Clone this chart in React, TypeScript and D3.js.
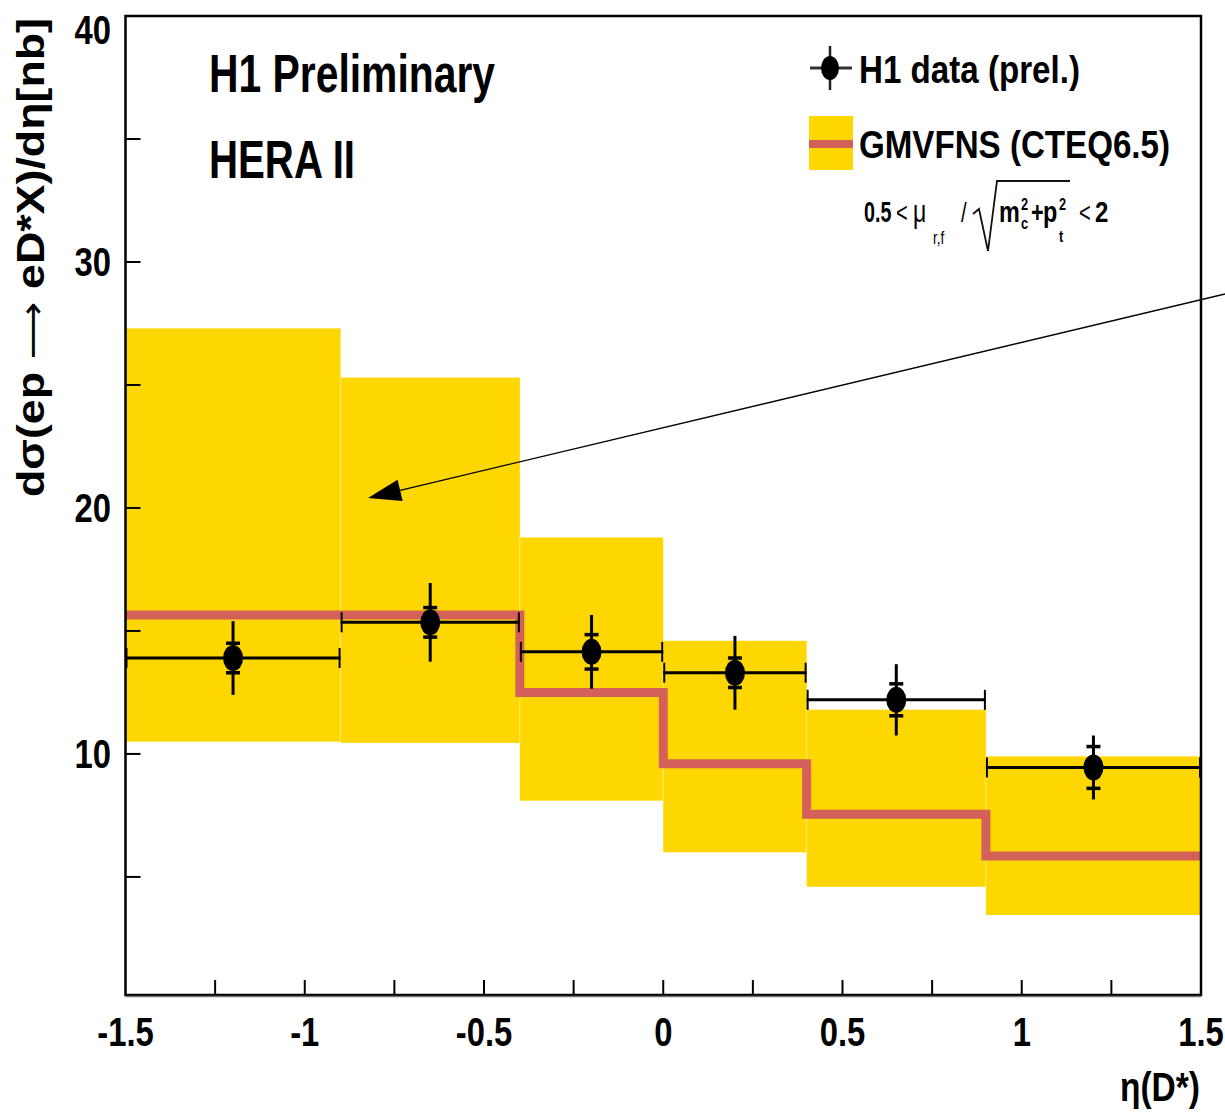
import React from "react";
import * as d3 from "d3";

// ---------- data ----------
const binEdges = [-1.5, -0.9, -0.4, 0, 0.4, 0.9, 1.5];
const dataCenters = [-1.2, -0.65, -0.2, 0.2, 0.65, 1.2];
const dataValues = [13.9, 15.35, 14.15, 13.3, 12.2, 9.45];
const statErr = [0.6, 0.6, 0.7, 0.6, 0.65, 0.85];
const totErr = [1.5, 1.6, 1.5, 1.5, 1.45, 1.3];
const theoryCentral = [15.65, 15.65, 12.5, 9.6, 7.55, 5.85];
const theoryHigh = [27.3, 25.3, 18.8, 14.6, 11.8, 9.9];
const theoryLow = [10.5, 10.45, 8.1, 6.0, 4.6, 3.45];

const xTickLabels = [-1.5, -1, -0.5, 0, 0.5, 1, 1.5];
const xMinorTicks = [-1.25, -1, -0.75, -0.5, -0.25, 0, 0.25, 0.5, 0.75, 1, 1.25];
const yTickLabels = [10, 20, 30, 40];
const yMinorTicks = [5, 10, 15, 20, 25, 30, 35];

const W = 1225;
const H = 1112;
const FONT = "'Liberation Sans', Arial, Helvetica, sans-serif";
const YELLOW = "#ffd700";
const RED = "#d4605a";

const x = d3.scaleLinear().domain([-1.5, 1.5]).range([125.5, 1201]);
const y = d3.scaleLinear().domain([0.2, 40]).range([995, 16]);

function Sq({ x: tx, y: ty, size, sx = 0.8, anchor = "start", weight = "bold", children, family = FONT }: any) {
  return (
    <text
      transform={`translate(${tx},${ty}) scale(${sx},1)`}
      fontSize={size}
      fontFamily={family}
      fontWeight={weight}
      textAnchor={anchor}
      fill="#000"
    >
      {children}
    </text>
  );
}

export default function App() {
  const [x0, x1] = x.range();
  const [yb, yt] = y.range();

  const stepPts: [number, number][] = binEdges.map((e, i) => [
    x(e),
    y(theoryCentral[Math.min(i, theoryCentral.length - 1)]),
  ]);
  const stepLine = d3.line().curve(d3.curveStepAfter)(stepPts) || "";

  // arrow annotation
  const ax0 = 1225, ay0 = 294, ax1 = 368, ay1 = 498;
  const dx = ax0 - ax1, dy = ay0 - ay1;
  const L = Math.hypot(dx, dy);
  const ux = dx / L, uy = dy / L;
  const hl = 33, hw = 11;
  const bx = ax1 + ux * hl, by = ay1 + uy * hl;
  const head = `M${ax1},${ay1} L${bx - uy * hw},${by + ux * hw} L${bx + uy * hw},${by - ux * hw} Z`;

  return (
    <svg
      width={W}
      height={H}
      style={{ position: "absolute", left: 0, top: 0, background: "#fff" }}
    >
      <rect x={0} y={0} width={W} height={H} fill="#fff" />

      {/* theory band */}
      {theoryHigh.map((hv, i) => (
        <rect
          key={"b" + i}
          x={x(binEdges[i])}
          y={y(hv)}
          width={x(binEdges[i + 1]) - x(binEdges[i])}
          height={y(theoryLow[i]) - y(hv)}
          fill={YELLOW}
        />
      ))}
      {binEdges.slice(1, -1).map((e, i) => (
        <line
          key={"s" + i}
          x1={x(e)}
          x2={x(e)}
          y1={y(Math.min(theoryHigh[i], theoryHigh[i + 1]))}
          y2={y(Math.max(theoryLow[i], theoryLow[i + 1]))}
          stroke="#ffe97a"
          strokeWidth={1}
        />
      ))}

      {/* theory central line */}
      <path d={stepLine} fill="none" stroke={RED} strokeWidth={9} />

      {/* data */}
      {dataValues.map((v, i) => {
        const cx = x(dataCenters[i]);
        const cy = y(v);
        const xl = x(binEdges[i]);
        const xr = x(binEdges[i + 1]);
        return (
          <g key={"d" + i}>
            <line x1={xl} x2={xr} y1={cy} y2={cy} stroke="#000" strokeWidth={3} />
            <line x1={xl + 1} x2={xl + 1} y1={cy - 10} y2={cy + 10} stroke="#000" strokeWidth={2} />
            <line x1={xr - 1} x2={xr - 1} y1={cy - 10} y2={cy + 10} stroke="#000" strokeWidth={2} />
            <line x1={cx} x2={cx} y1={y(v + totErr[i])} y2={y(v - totErr[i])} stroke="#000" strokeWidth={3} />
            <line x1={cx - 7} x2={cx + 7} y1={y(v + statErr[i])} y2={y(v + statErr[i])} stroke="#000" strokeWidth={3.5} />
            <line x1={cx - 7} x2={cx + 7} y1={y(v - statErr[i])} y2={y(v - statErr[i])} stroke="#000" strokeWidth={3.5} />
            <ellipse cx={cx} cy={cy} rx={10} ry={13} fill="#000" />
          </g>
        );
      })}

      {/* axis ticks */}
      {xMinorTicks.map((t) => (
        <line key={"xt" + t} x1={x(t)} x2={x(t)} y1={yb} y2={yb - 15} stroke="#000" strokeWidth={2} />
      ))}
      {yMinorTicks.map((t) => (
        <line key={"yt" + t} x1={x0} x2={x0 + 15} y1={y(t)} y2={y(t)} stroke="#000" strokeWidth={2} />
      ))}

      {/* frame */}
      <rect x={x0} y={yt} width={x1 - x0} height={yb - yt} fill="none" stroke="#000" strokeWidth={2.5} />
      <line x1={x0} x2={x1} y1={yb + 1.5} y2={yb + 1.5} stroke="#777" strokeWidth={1.5} />

      {/* tick labels */}
      {xTickLabels.map((t) => (
        <Sq key={"xl" + t} x={x(t)} y={1046} size={41} sx={0.8} anchor="middle">
          {String(t)}
        </Sq>
      ))}
      {yTickLabels.map((t) => (
        <Sq key={"yl" + t} x={111} y={Math.max(y(t), 29) + 14.5} size={41} sx={0.8} anchor="end">
          {String(t)}
        </Sq>
      ))}

      {/* axis titles */}
      <text
        transform="translate(44,497) rotate(-90)"
        fontSize={38}
        fontFamily={FONT}
        fontWeight="bold"
        textLength={479}
        lengthAdjust="spacingAndGlyphs"
      >
        dσ(ep
        <tspan fontFamily="'DejaVu Sans', sans-serif" fontWeight="normal" fontSize={34}> ⟶ </tspan>
        eD*X)/dη[nb]
      </text>
      <text
        x={1120}
        y={1101}
        fontSize={40}
        fontFamily={FONT}
        fontWeight="bold"
        textLength={80}
        lengthAdjust="spacingAndGlyphs"
      >
        η(D*)
      </text>

      {/* labels */}
      <text x={209} y={92} fontSize={53} fontFamily={FONT} fontWeight="bold" textLength={286} lengthAdjust="spacingAndGlyphs">
        H1 Preliminary
      </text>
      <text x={209} y={178} fontSize={53} fontFamily={FONT} fontWeight="bold" textLength={146} lengthAdjust="spacingAndGlyphs">
        HERA II
      </text>

      {/* legend */}
      <line x1={810} x2={852} y1={68} y2={68} stroke="#333" strokeWidth={3} />
      <line x1={830} x2={830} y1={46} y2={90} stroke="#222" strokeWidth={2.5} />
      <ellipse cx={830} cy={68} rx={9} ry={12} fill="#000" />
      <text x={859} y={83} fontSize={39} fontFamily={FONT} fontWeight="bold" textLength={221} lengthAdjust="spacingAndGlyphs">
        H1 data (prel.)
      </text>
      <rect x={809} y={116} width={44} height={54} fill={YELLOW} />
      <line x1={809} x2={853} y1={144} y2={144} stroke={RED} strokeWidth={8} />
      <text x={859} y={158} fontSize={39} fontFamily={FONT} fontWeight="bold" textLength={311} lengthAdjust="spacingAndGlyphs">
        GMVFNS (CTEQ6.5)
      </text>

      {/* formula */}
      <Sq x={864} y={222} size={29} sx={0.68}>0.5</Sq>
      <Sq x={896} y={222} size={28} sx={0.72} weight="normal">&lt;</Sq>
      <Sq x={913} y={222} size={32} sx={0.72} weight="normal">μ</Sq>
      <Sq x={933} y={244} size={18} sx={0.75} weight="normal">r,f</Sq>
      <Sq x={961} y={222} size={28} sx={0.72} weight="normal">/</Sq>
      <path d="M973,214 L979,209 L988,251 L997,181 L1070,181" fill="none" stroke="#111" strokeWidth={1.8} />
      <Sq x={999} y={222} size={30} sx={0.78}>m</Sq>
      <Sq x={1021} y={210} size={17} sx={0.75}>2</Sq>
      <Sq x={1021} y={229} size={17} sx={0.75}>c</Sq>
      <Sq x={1031} y={222} size={30} sx={0.72}>+</Sq>
      <Sq x={1043} y={222} size={30} sx={0.78}>p</Sq>
      <Sq x={1059} y={210} size={17} sx={0.75}>2</Sq>
      <Sq x={1059} y={242} size={17} sx={0.75}>t</Sq>
      <Sq x={1079} y={222} size={28} sx={0.72} weight="normal">&lt;</Sq>
      <Sq x={1095} y={222} size={30} sx={0.8}>2</Sq>

      {/* annotation arrow */}
      <line x1={ax0} y1={ay0} x2={bx} y2={by} stroke="#000" strokeWidth={1.3} />
      <path d={head} fill="#000" />
    </svg>
  );
}
